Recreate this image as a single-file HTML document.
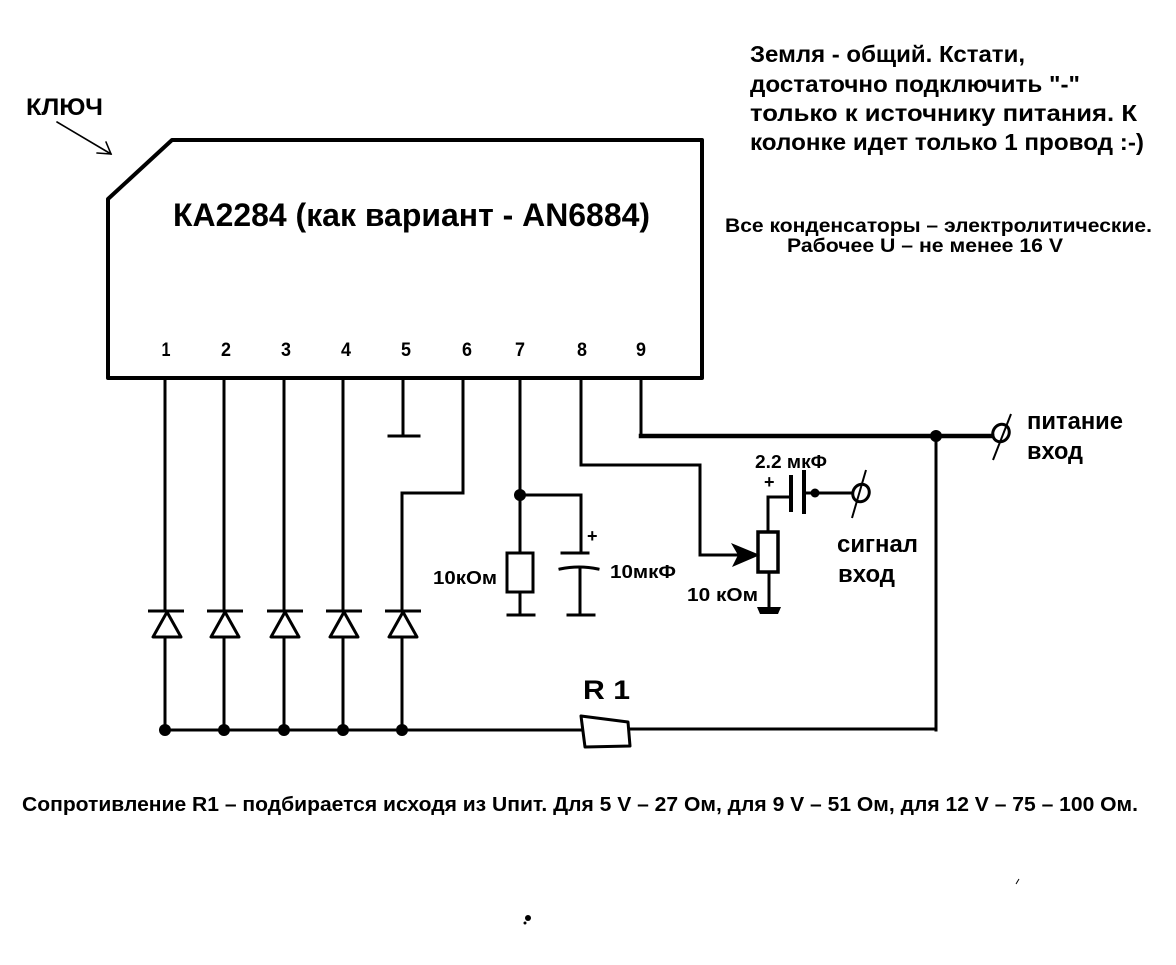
<!DOCTYPE html>
<html>
<head>
<meta charset="utf-8">
<style>
html,body{margin:0;padding:0;background:#fff;}
svg{display:block;}
text{font-family:"Liberation Sans","DejaVu Sans",sans-serif;font-weight:bold;fill:#000;}
</style>
</head>
<body>
<svg width="1176" height="965" viewBox="0 0 1176 965" xmlns="http://www.w3.org/2000/svg">
<rect width="1176" height="965" fill="#fff"/>

<!-- KEY label and arrow -->
<text x="26" y="115" font-size="24" textLength="77" lengthAdjust="spacingAndGlyphs">КЛЮЧ</text>
<g stroke="#000" stroke-width="1.6" fill="none" stroke-linecap="round">
  <line x1="57" y1="122" x2="111" y2="154"/>
  <polyline points="106,142 111,154 97,153"/>
</g>

<!-- Chip body -->
<path d="M108,378 L108,199 L172,140 L702,140 L702,378 Z" fill="none" stroke="#000" stroke-width="4" stroke-linejoin="round"/>
<text x="173" y="226" font-size="32" textLength="477" lengthAdjust="spacingAndGlyphs">КА2284 (как вариант - AN6884)</text>

<!-- pin numbers -->
<g font-size="19" text-anchor="middle">
  <text x="166" y="356" textLength="9" lengthAdjust="spacingAndGlyphs">1</text>
  <text x="226" y="356" textLength="10" lengthAdjust="spacingAndGlyphs">2</text>
  <text x="286" y="356" textLength="10" lengthAdjust="spacingAndGlyphs">3</text>
  <text x="346" y="356" textLength="10" lengthAdjust="spacingAndGlyphs">4</text>
  <text x="406" y="356" textLength="10" lengthAdjust="spacingAndGlyphs">5</text>
  <text x="467" y="356" textLength="10" lengthAdjust="spacingAndGlyphs">6</text>
  <text x="520" y="356" textLength="10" lengthAdjust="spacingAndGlyphs">7</text>
  <text x="582" y="356" textLength="10" lengthAdjust="spacingAndGlyphs">8</text>
  <text x="641" y="356" textLength="10" lengthAdjust="spacingAndGlyphs">9</text>
</g>

<g stroke="#000" stroke-width="3" fill="none" stroke-linecap="square" stroke-linejoin="miter">
  <!-- pins 1-4 -->
  <path d="M165,378 V611 M165,637 V730"/>
  <path d="M224,378 V611 M224,637 V730"/>
  <path d="M284,378 V611 M284,637 V730"/>
  <path d="M343,378 V611 M343,637 V730"/>
  <!-- pin 5 ground -->
  <path d="M403,378 V436 M389,436 H419"/>
  <!-- pin 6 -->
  <path d="M463,378 V493 H402 V611 M402,637 V730"/>
  <!-- pin 7 -->
  <path d="M520,378 V553 M520,495 H581 V553"/>
  <path d="M562,553 H588"/>
  <path d="M560,569 Q579,565 598,569"/>
  <path d="M580,569 V615 M568,615 H594"/>
  <rect x="507" y="553" width="26" height="39"/>
  <path d="M520,592 V615 M508,615 H534"/>
  <!-- pin 8 -->
  <path d="M581,378 V465 H700 V555 H742"/>
  <!-- potentiometer -->
  <rect x="758" y="532" width="20" height="40" stroke-width="3.5"/>
  <path d="M768,532 V497 H790"/>
  <path d="M769,572 V608"/>
  <!-- 2.2uF cap -->
  <path d="M791,477 V510" stroke-width="4"/>
  <path d="M804,472 V512" stroke-width="4"/>
  <path d="M805,493 H852"/>
  <!-- bus -->
  <path d="M165,730 H582"/>
  <path d="M581,716 L628,722 L630,746 L585,747 Z" stroke-linejoin="round"/>
  <path d="M630,729 H936"/>
  <!-- right vertical -->
  <path d="M936,436 V730"/>
  <!-- pin 9 -->
  <path d="M641,378 V436"/>
  <path d="M641,436 H992" stroke-width="4.5"/>
</g>

<!-- diodes -->
<g stroke="#000" stroke-width="3" fill="none" stroke-linejoin="round">
  <path d="M148,611 H184 M167,612 L153,637 H181 Z"/>
  <path d="M207,611 H243 M225,612 L211,637 H239 Z"/>
  <path d="M267,611 H303 M285,612 L271,637 H299 Z"/>
  <path d="M326,611 H362 M344,612 L330,637 H358 Z"/>
  <path d="M385,611 H421 M403,612 L389,637 H417 Z"/>
</g>

<!-- arrow into pot -->
<polygon points="760,555 731,543 738,555 732,567" fill="#000"/>
<!-- pot ground -->
<polygon points="757,607 781,607 778,614 760,614" fill="#000"/>

<!-- junction dots -->
<g fill="#000">
  <circle cx="165" cy="730" r="6"/>
  <circle cx="224" cy="730" r="6"/>
  <circle cx="284" cy="730" r="6"/>
  <circle cx="343" cy="730" r="6"/>
  <circle cx="402" cy="730" r="6"/>
  <circle cx="520" cy="495" r="6"/>
  <circle cx="936" cy="436" r="6"/>
  <circle cx="815" cy="493" r="4.5"/>
</g>

<!-- connectors -->
<g stroke="#000" stroke-width="3" fill="none">
  <ellipse cx="1001" cy="433" rx="8" ry="9" transform="rotate(30 1001 433)"/>
  <line x1="1011" y1="414" x2="993" y2="460" stroke-width="2"/>
  <ellipse cx="861" cy="493" rx="8" ry="9" transform="rotate(30 861 493)"/>
  <line x1="866" y1="470" x2="852" y2="518" stroke-width="2"/>
</g>

<!-- component labels -->
<text x="433" y="584" font-size="18" textLength="64" lengthAdjust="spacingAndGlyphs">10кОм</text>
<text x="587" y="542" font-size="18">+</text>
<text x="610" y="578" font-size="18" textLength="66" lengthAdjust="spacingAndGlyphs">10мкФ</text>
<text x="755" y="468" font-size="18" textLength="72" lengthAdjust="spacingAndGlyphs">2.2 мкФ</text>
<text x="764" y="488" font-size="18">+</text>
<text x="687" y="601" font-size="18" textLength="71" lengthAdjust="spacingAndGlyphs">10 кОм</text>
<text x="837" y="552" font-size="24" textLength="81" lengthAdjust="spacingAndGlyphs">сигнал</text>
<text x="838" y="582" font-size="24" textLength="57" lengthAdjust="spacingAndGlyphs">вход</text>
<text x="1027" y="429" font-size="24" textLength="96" lengthAdjust="spacingAndGlyphs">питание</text>
<text x="1027" y="459" font-size="24" textLength="56" lengthAdjust="spacingAndGlyphs">вход</text>
<text x="583" y="699" font-size="27" textLength="47" lengthAdjust="spacingAndGlyphs">R 1</text>

<!-- notes -->
<g font-size="23">
  <text x="750" y="62" textLength="275" lengthAdjust="spacingAndGlyphs">Земля - общий. Кстати,</text>
  <text x="750" y="92" textLength="330" lengthAdjust="spacingAndGlyphs">достаточно подключить "-"</text>
  <text x="750" y="121" textLength="387" lengthAdjust="spacingAndGlyphs">только к источнику питания. К</text>
  <text x="750" y="150" textLength="394" lengthAdjust="spacingAndGlyphs">колонке идет только 1 провод :-)</text>
</g>
<text x="725" y="232" font-size="19" textLength="427" lengthAdjust="spacingAndGlyphs">Все конденсаторы – электролитические.</text>
<text x="787" y="252" font-size="19" textLength="276" lengthAdjust="spacingAndGlyphs">Рабочее U – не менее 16 V</text>

<text x="22" y="811" font-size="20" textLength="1116" lengthAdjust="spacingAndGlyphs">Сопротивление R1 – подбирается исходя из Uпит. Для 5 V – 27 Ом, для 9 V – 51 Ом, для 12 V – 75 – 100 Ом.</text>

<!-- specks -->
<circle cx="528" cy="918" r="3" fill="#000"/>
<circle cx="525" cy="923" r="1.5" fill="#000"/>
<line x1="1016" y1="884" x2="1019" y2="879" stroke="#000" stroke-width="1"/>
</svg>
</body>
</html>
